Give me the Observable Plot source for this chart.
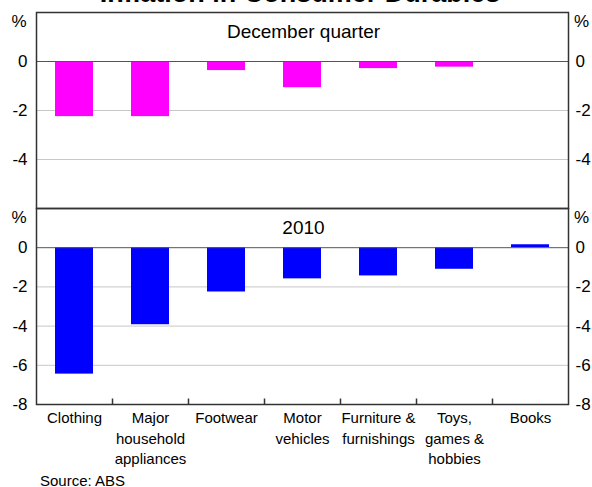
<!DOCTYPE html>
<html>
<head>
<meta charset="utf-8">
<script src="https://cdn.jsdelivr.net/npm/d3@7"></script>
<script src="https://cdn.jsdelivr.net/npm/@observablehq/plot@0.6"></script>
<style>
  html, body { margin: 0; padding: 0; background: #fff; }
  #wrap { position: relative; width: 592px; height: 487px; overflow: hidden; font-family: "Liberation Sans", Arial, sans-serif; }
  #title { position: absolute; left: 0; top: -20px; width: 592px; padding-left: 8px; box-sizing: border-box; text-align: center; font-size: 27px; line-height: 27px; font-weight: bold; color: #000; }
  #top, #bottom { position: absolute; left: 0; }
  #top { top: 0; }
  #bottom { top: 196px; }
  #source { position: absolute; left: 40px; top: 474px; font-size: 15px; line-height: 13px; color: #000; }
</style>
</head>
<body>
<div id="wrap">
  <div id="title">Inflation in Consumer Durables</div>
  <div id="top"></div>
  <div id="bottom"></div>
  <div id="source">Source: ABS</div>
</div>
<script>
const categories = ["Clothing", "Major household appliances", "Footwear", "Motor vehicles", "Furniture & furnishings", "Toys, games & hobbies", "Books"];
const categoryLabels = ["Clothing", "Major\nhousehold\nappliances", "Footwear", "Motor\nvehicles", "Furniture &\nfurnishings", "Toys,\ngames &\nhobbies", "Books"];
const decemberQuarter = [-2.25, -2.25, -0.37, -1.07, -0.29, -0.23, 0];
const year2010 = [-6.45, -3.93, -2.26, -1.59, -1.44, -1.1, 0.15];
const topTicks = [0, -2, -4];
const bottomTicks = [0, -2, -4, -6, -8];

const W = 592, ML = 36, MR = 24;
const step = (W - ML - MR) / categories.length;
const font = "Liberation Sans, Arial, sans-serif";
const labelOf = new Map(categories.map((c, i) => [c, categoryLabels[i]]));
const fmt = d => `${d}`;

function panel({values, color, domain, ticks, title, height, marginBottom, showX}) {
  const data = categories.map((c, i) => ({cat: c, value: values[i]}));
  const marks = [
    Plot.ruleY(ticks.filter(t => t !== 0 && t !== domain[0]), {stroke: "#c8c8c8", strokeWidth: 1}),
    Plot.barY(data, {x: "cat", y: "value", fill: color}),
    Plot.ruleY([0], {stroke: "#555", strokeWidth: 1}),
    Plot.axisY(ticks, {anchor: "left", tickSize: 0, tickPadding: 9, fontSize: 17, label: null, tickFormat: fmt}),
    Plot.axisY(ticks, {anchor: "right", tickSize: 0, tickPadding: 7, fontSize: 17, label: null, tickFormat: fmt}),
    Plot.text(["%"], {frameAnchor: "top-left", textAnchor: "middle", dx: -17.5, dy: 9.5, lineAnchor: "middle", fontSize: 17}),
    Plot.text(["%"], {frameAnchor: "top-right", textAnchor: "middle", dx: 13, dy: 9.5, lineAnchor: "middle", fontSize: 17}),
    Plot.text([title], {frameAnchor: "top", dx: 1, dy: 19, lineAnchor: "middle", fontSize: 19}),
    Plot.frame({stroke: "#333", strokeWidth: 1.5})
  ];
  if (showX) {
    marks.push(
      Plot.ruleX(categories.slice(1), {x: d => d, y1: domain[0], y2: domain[0] + 0.28, dx: -step / 2, stroke: "#333", strokeWidth: 1.5}),
      Plot.axisX({anchor: "bottom", tickSize: 0, tickPadding: 4, fontSize: 15, lineHeight: 1.37, tickFormat: d => labelOf.get(d), label: null})
    );
  }
  return Plot.plot({
    width: W,
    height,
    marginTop: 12,
    marginBottom,
    marginLeft: ML,
    marginRight: MR,
    style: {fontFamily: font, color: "#000", background: "transparent", overflow: "visible"},
    x: {type: "band", domain: categories, paddingInner: 0.5, paddingOuter: 0.25, axis: null},
    y: {domain, axis: null},
    marks
  });
}

document.getElementById("top").append(panel({
  values: decemberQuarter, color: "#ff00ff", domain: [-6, 2], ticks: topTicks,
  title: "December quarter", height: 210, marginBottom: 2, showX: false
}));
document.getElementById("bottom").append(panel({
  values: year2010, color: "#0000ff", domain: [-8, 2], ticks: bottomTicks,
  title: "2010", height: 268, marginBottom: 60, showX: true
}));
</script>
</body>
</html>
